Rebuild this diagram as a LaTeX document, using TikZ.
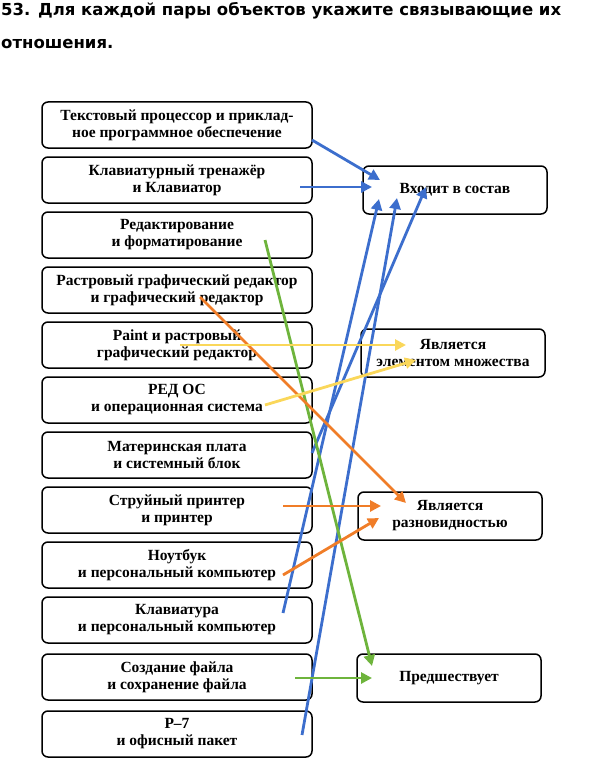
\documentclass[tikz,border=0pt]{standalone}
\usepackage{fontspec}
\setmainfont{Liberation Serif}
\newfontfamily\titlefont{DejaVu Sans}
\usetikzlibrary{arrows.meta}
\definecolor{lblue}{RGB}{60,110,205}
\definecolor{lgreen}{RGB}{110,180,60}
\definecolor{lorange}{RGB}{240,125,40}
\definecolor{lyellow}{RGB}{250,215,90}
\begin{document}
\begin{tikzpicture}[x=1pt,y=-1pt,
    pair/.style={draw,line width=1.5pt,rounded corners=6pt,minimum width=270pt,minimum height=46pt,align=center,font=\bfseries\fontsize{15.5}{17}\selectfont,inner sep=1pt},
    rel/.style={draw,line width=1.5pt,rounded corners=6pt,minimum width=184pt,minimum height=48pt,align=center,font=\bfseries\fontsize{15.5}{17}\selectfont,inner sep=1pt},
    link/.style={line width=2.8pt,-{Triangle[length=11pt,width=11pt]}},
  ]
  \useasboundingbox (0,0) rectangle (601,765);
  \node[anchor=north west,align=left,font=\titlefont\bfseries\fontsize{16.5}{33}\selectfont,inner sep=0pt] (T) at (1,2)
    {53. Для каждой пары объектов укажите связывающие их\\отношения.};
  % left column
  \node[pair] (p1) at (177,125) {Текстовый процессор и приклад-\\ное программное обеспечение};
  \node[pair] (p2) at (177,180) {Клавиатурный тренажёр\\и Клавиатор};
  \node[pair] (p3) at (177,235) {Редактирование\\и форматирование};
  \node[pair] (p4) at (177,290) {Растровый графический редактор\\и графический редактор};
  \node[pair] (p5) at (177,345) {Paint и растровый\\графический редактор};
  \node[pair] (p6) at (177,400) {РЕД ОС\\и операционная система};
  \node[pair] (p7) at (177,455) {Материнская плата\\и системный блок};
  \node[pair] (p8) at (177,510) {Струйный принтер\\и принтер};
  \node[pair] (p9) at (177,565) {Ноутбук\\и персональный компьютер};
  \node[pair] (p10) at (177,620) {Клавиатура\\и персональный компьютер};
  \node[pair] (p11) at (177,677) {Создание файла\\и сохранение файла};
  \node[pair] (p12) at (177,734) {Р--7\\и офисный пакет};
  % right column
  \node[rel] (r1) at (455,190) {Входит в состав};
  \node[rel] (r2) at (453,353) {Является\\элементом множества};
  \node[rel] (r3) at (450,516) {Является\\разновидностью};
  \node[rel] (r4) at (449,678) {Предшествует};
  % arrow ends
  \coordinate (a1) at (312,140); \coordinate (b1) at (380,180);
  \coordinate (a2) at (300,187); \coordinate (b2) at (372,187);
  \coordinate (a3) at (312,453); \coordinate (b3) at (426,187);
  \coordinate (a4) at (283,613); \coordinate (b4) at (379,199);
  \coordinate (a5) at (302,735); \coordinate (b5) at (397,198);
  \coordinate (a6) at (265,240); \coordinate (b6) at (372,666);
  \coordinate (a7) at (295,678); \coordinate (b7) at (372,678);
  \coordinate (a8) at (200,297); \coordinate (b8) at (406,503);
  \coordinate (a9) at (283,506); \coordinate (b9) at (381,506);
  \coordinate (a10) at (283,575); \coordinate (b10) at (379,518);
  \coordinate (a11) at (180,345); \coordinate (b11) at (406,345);
  \coordinate (a12) at (265,405); \coordinate (b12) at (416,360);
  \draw[link,lblue] (a1) -- (b1);
  \draw[link,lblue] (a2) -- (b2);
  \draw[link,lblue] (a3) -- (b3);
  \draw[link,lblue] (a4) -- (b4);
  \draw[link,lblue] (a5) -- (b5);
  \draw[link,lgreen] (a6) -- (b6);
  \draw[link,lgreen] (a7) -- (b7);
  \draw[link,lorange] (a8) -- (b8);
  \draw[link,lorange] (a9) -- (b9);
  \draw[link,lorange] (a10) -- (b10);
  \draw[link,lyellow] (a11) -- (b11);
  \draw[link,lyellow] (a12) -- (b12);
\end{tikzpicture}
\end{document}
